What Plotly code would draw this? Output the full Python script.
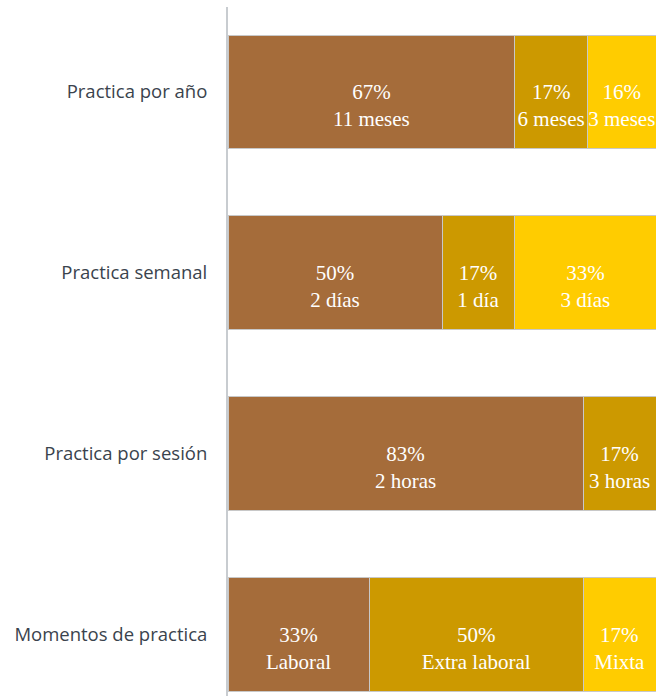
import plotly.graph_objects as go

# Categories (top to bottom)
categories = ["Practica por año", "Practica semanal", "Practica por sesión", "Momentos de practica"]

# Percentages for each stacked segment
seg1_values = [67, 50, 83, 33]
seg2_values = [17, 17, 17, 50]
seg3_values = [16, 33, None, 17]

# Descriptive labels shown under each percentage
seg1_labels = ["11 meses", "2 días", "2 horas", "Laboral"]
seg2_labels = ["6 meses", "1 día", "3 horas", "Extra laboral"]
seg3_labels = ["3 meses", "3 días", "", "Mixta"]

colors = ["#A56C3A", "#CC9900", "#FFCC00"]

fig = go.Figure()
for vals, labels, color in zip(
    [seg1_values, seg2_values, seg3_values],
    [seg1_labels, seg2_labels, seg3_labels],
    colors,
):
    fig.add_trace(go.Bar(
        y=categories,
        x=vals,
        orientation="h",
        width=0.63,
        marker=dict(color=color, line=dict(color="#C8C8C8", width=1)),
        customdata=labels,
        # leading empty line drops the two-line label slightly below centre
        texttemplate=" <br>%{x}%<br>%{customdata}",
        textposition="inside",
        insidetextanchor="middle",
        constraintext="none",
        textangle=0,
        textfont=dict(family="Liberation Serif", size=21, color="white"),
        cliponaxis=True,
        showlegend=False,
    ))

fig.update_layout(
    barmode="stack",
    width=656,
    height=696,
    margin=dict(l=228, r=0, t=7, b=0),
    plot_bgcolor="white",
    paper_bgcolor="white",
    bargap=0.37,
    xaxis=dict(range=[0, 100], showticklabels=False, showgrid=False,
               zeroline=False, showline=False),
    yaxis=dict(
        categoryorder="array",
        categoryarray=categories,
        range=[3.34, -0.47],
        showgrid=False,
        zeroline=False,
        showline=True,
        linecolor="#C8CCD0",
        linewidth=2,
        ticks="",
        ticklabelstandoff=15,
        tickfont=dict(family="Open Sans", size=18.5, color="#3A434D"),
    ),
)

fig.write_html("out.html")
